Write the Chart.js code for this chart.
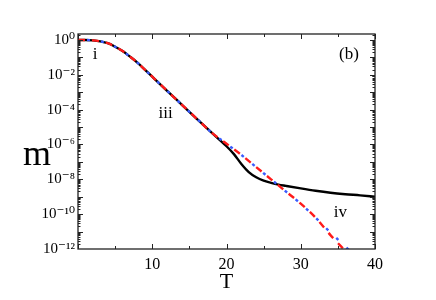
<!DOCTYPE html>
<html>
<head>
<meta charset="utf-8">
<script src="https://cdn.jsdelivr.net/npm/chart.js@4.4.1/dist/chart.umd.min.js"></script>
<style>
    html, body { margin: 0; padding: 0; background: #fff; }
</style>
</head>
<body>
<canvas id="chart" width="436" height="300"></canvas>
<script>
// T values and m values
const tBlack = [0, 1, 2, 3, 4, 5, 6, 7, 8, 9, 10, 12, 14, 16, 18, 20, 21, 22, 23, 24, 25, 26, 27, 28, 30, 32, 34, 36, 38, 40];
const mBlack = [1, 1, 0.95, 0.83, 0.65, 0.41, 0.23, 0.11, 0.050, 0.020, 7.8e-3, 1.2e-3, 1.9e-4, 3.0e-5, 4.8e-6,
    7.9e-7, 2.8e-7, 7.6e-8, 2.6e-8, 1.3e-8, 8.3e-9, 6.3e-9, 5.0e-9, 4.2e-9, 3.0e-9, 2.2e-9, 1.7e-9, 1.4e-9, 1.2e-9, 1.0e-9];

const tDash = [0, 1, 2, 3, 4, 5, 6, 7, 8, 9, 10, 12, 14, 16, 18, 20, 22, 24, 26, 28, 30, 32, 34, 36, 38];
const mBlue = [1, 1, 0.95, 0.83, 0.65, 0.41, 0.23, 0.11, 0.050, 0.020, 7.8e-3, 1.2e-3, 1.9e-4, 3.0e-5, 4.8e-6,
    1.1e-6, 2.5e-7, 5.0e-8, 1.0e-8, 2.0e-9, 4.0e-10, 6.3e-11, 8.9e-12, 1.4e-12, 2.0e-13];
const mRed = [1, 1, 0.95, 0.83, 0.65, 0.41, 0.23, 0.11, 0.050, 0.020, 7.8e-3, 1.2e-3, 1.9e-4, 3.0e-5, 4.8e-6,
    1.1e-6, 2.5e-7, 5.0e-8, 1.0e-8, 2.0e-9, 4.0e-10, 6.3e-11, 6.3e-12, 7.9e-13, 1.0e-13];

const xTicks = [0, 10, 20, 30, 40];
const xMinorTicks = [5, 15, 25, 35];
const yLabelExponents = [-12, -10, -8, -6, -4, -2, 0];

const notes = [
    { text: "i", t: 2.3, m: 0.14 },
    { text: "iii", t: 11.8, m: 5.6e-5 },
    { text: "iv", t: 35.35, m: 1.3e-10 },
    { text: "(b)", t: 36.5, m: 0.14 },
];

const SERIF = "'Liberation Serif', 'DejaVu Serif', serif";
const SUP = { "-": "\u207B", "0": "\u2070", "1": "\u00B9", "2": "\u00B2", "3": "\u00B3", "4": "\u2074",
    "5": "\u2075", "6": "\u2076", "7": "\u2077", "8": "\u2078", "9": "\u2079" };

function pairs(xs, ys) {
    return xs.map((x, i) => ({ x: x, y: ys[i] }));
}

const framePlugin = {
    id: "frame",
    afterDraw(chart) {
        const ctx = chart.ctx;
        const a = chart.chartArea;
        const xs = chart.scales.x;
        const ys = chart.scales.y;
        ctx.save();
        ctx.strokeStyle = "#222";
        ctx.lineWidth = 1.3;
        ctx.strokeRect(a.left, a.top, a.right - a.left, a.bottom - a.top);

        ctx.lineWidth = 1;
        ctx.beginPath();
        const hTick = (v, len) => {
            const px = Math.round(xs.getPixelForValue(v)) + 0.5;
            ctx.moveTo(px, a.bottom); ctx.lineTo(px, a.bottom - len);
            ctx.moveTo(px, a.top); ctx.lineTo(px, a.top + len);
        };
        xTicks.forEach(v => hTick(v, 5));
        xMinorTicks.forEach(v => hTick(v, 3));
        const vTick = (v, len) => {
            const py = Math.round(ys.getPixelForValue(v)) + 0.5;
            if (py < a.top || py > a.bottom) return;
            ctx.moveTo(a.left, py); ctx.lineTo(a.left + len, py);
            ctx.moveTo(a.right, py); ctx.lineTo(a.right - len, py);
        };
        for (let e = -12; e <= 0; e++) {
            vTick(Math.pow(10, e), 5);
            for (let k = 2; k <= 9; k++) vTick(k * Math.pow(10, e), 2.5);
        }
        ctx.stroke();

        ctx.fillStyle = "#000";
        ctx.textAlign = "center";
        ctx.textBaseline = "middle";
        ctx.font = "17px " + SERIF;
        notes.forEach(n => {
            ctx.fillText(n.text, xs.getPixelForValue(n.t), ys.getPixelForValue(n.m));
        });

        ctx.font = "36px " + SERIF;
        ctx.textBaseline = "alphabetic";
        ctx.fillText("m", 37, 165);
        ctx.font = "22px " + SERIF;
        ctx.fillText("T", (a.left + a.right) / 2, 288);
        ctx.restore();
    },
};

new Chart(document.getElementById("chart"), {
    type: "line",
    data: {
        datasets: [
            {
                label: "red",
                data: pairs(tDash, mRed),
                borderColor: "#ff1a1a",
                borderWidth: 2.4,
                borderDash: [7, 7],
                pointRadius: 0,
                cubicInterpolationMode: "monotone",
            },
            {
                label: "blue",
                data: pairs(tDash, mBlue),
                borderColor: "#3b5bff",
                borderWidth: 2.4,
                borderDash: [3, 11],
                borderDashOffset: -9,
                pointRadius: 0,
                cubicInterpolationMode: "monotone",
            },
            {
                label: "black",
                data: pairs(tBlack, mBlack),
                borderColor: "#000",
                borderWidth: 2.4,
                pointRadius: 0,
                cubicInterpolationMode: "monotone",
            },
        ],
    },
    options: {
        responsive: false,
        animation: false,
        layout: { padding: { top: 34, right: 61, left: 0, bottom: 0 } },
        plugins: {
            legend: { display: false },
            tooltip: { enabled: false },
        },
        scales: {
            x: {
                type: "linear",
                min: 0,
                max: 40,
                grid: { display: false, drawTicks: false },
                border: { display: false },
                afterBuildTicks: (scale) => {
                    scale.ticks = xTicks.map(v => ({ value: v }));
                },
                afterFit: (scale) => { scale.height = 51; },
                ticks: {
                    padding: 6,
                    color: "#000",
                    font: { family: SERIF, size: 16 },
                    maxRotation: 0,
                    callback: (v) => (v === 0 ? "" : String(v)),
                },
            },
            y: {
                type: "logarithmic",
                min: 1e-12,
                max: 2.2,
                grid: { display: false, drawTicks: false },
                border: { display: false },
                afterBuildTicks: (scale) => {
                    scale.ticks = yLabelExponents.map(e => ({ value: Math.pow(10, e) }));
                },
                afterFit: (scale) => { scale.width = 78; },
                ticks: {
                    padding: 3,
                    color: "#000",
                    font: { family: SERIF, size: 15 },
                    callback: (v) => {
                        const e = String(Math.round(Math.log10(v)));
                        return "10" + e.split("").map(c => SUP[c]).join("");
                    },
                },
            },
        },
    },
    plugins: [framePlugin],
});
</script>
</body>
</html>
